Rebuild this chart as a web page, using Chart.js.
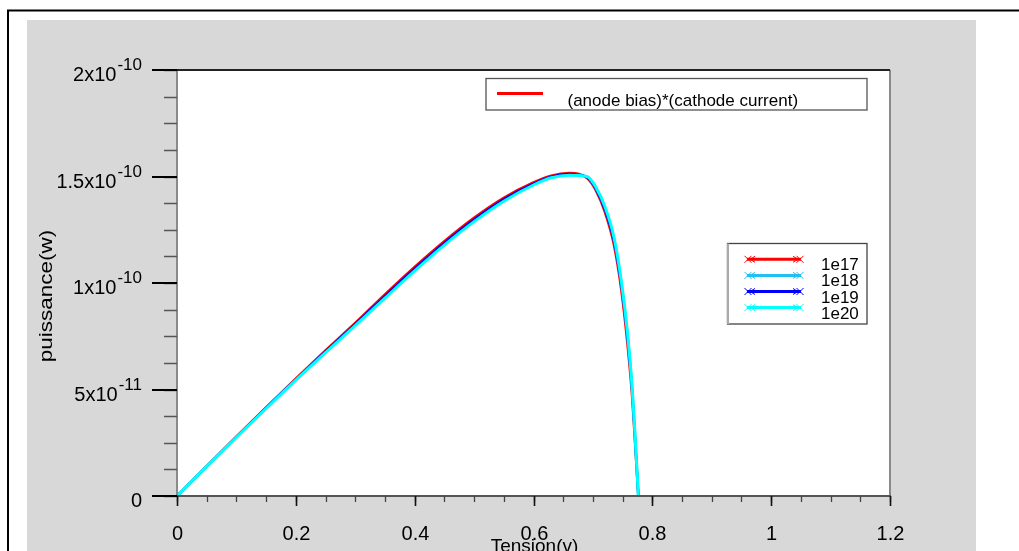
<!DOCTYPE html>
<html>
<head>
<meta charset="utf-8">
<script src="https://cdn.jsdelivr.net/npm/chart.js@4/dist/chart.umd.min.js"></script>
<style>
  html, body { margin: 0; padding: 0; background: #ffffff; }
  #wrap { width: 1019px; height: 551px; position: relative; }
</style>
</head>
<body>
<div id="wrap"><canvas id="c" width="1019" height="551"></canvas></div>
<script>
// Tension (V) sample points shared by every doping curve
const tension = [0, 0.05, 0.1, 0.15, 0.2, 0.25, 0.3, 0.35, 0.4, 0.45, 0.5, 0.55, 0.6, 0.63, 0.66, 0.69, 0.705, 0.72, 0.735, 0.748, 0.758, 0.766, 0.771, 0.7765];

// Power (W) for each doping level
const p1e17 = [0, 14.0e-12, 27.9e-12, 41.6e-12, 55.1e-12, 68.3e-12, 81.2e-12, 94.6e-12, 107.5e-12, 119.6e-12, 130.6e-12, 140.0e-12, 147.2e-12, 150.4e-12, 151.6e-12, 149.3e-12, 143.5e-12, 133.5e-12, 118.5e-12, 96.5e-12, 72.0e-12, 47.0e-12, 25.0e-12, 0];
const p1e18 = [0, 13.9e-12, 27.7e-12, 41.3e-12, 54.6e-12, 67.6e-12, 80.4e-12, 93.5e-12, 106.3e-12, 118.4e-12, 129.4e-12, 138.9e-12, 146.4e-12, 149.7e-12, 150.9e-12, 149.8e-12, 144.6e-12, 135.3e-12, 121.0e-12, 99.6e-12, 76.0e-12, 50.4e-12, 27.4e-12, 0];
const p1e19 = [0, 13.95e-12, 27.8e-12, 41.4e-12, 54.8e-12, 67.9e-12, 80.7e-12, 93.9e-12, 106.8e-12, 118.9e-12, 129.9e-12, 139.4e-12, 146.7e-12, 150.0e-12, 151.2e-12, 149.6e-12, 144.2e-12, 134.6e-12, 120.0e-12, 98.4e-12, 74.5e-12, 49.2e-12, 26.5e-12, 0];
const p1e20 = [0, 13.9e-12, 27.6e-12, 41.1e-12, 54.4e-12, 67.3e-12, 80.0e-12, 92.9e-12, 105.7e-12, 117.8e-12, 128.8e-12, 138.4e-12, 146.0e-12, 149.4e-12, 150.6e-12, 150.0e-12, 145.0e-12, 136.0e-12, 122.0e-12, 100.5e-12, 77.0e-12, 51.0e-12, 28.0e-12, 0];

const seriesNames = ['1e17', '1e18', '1e19', '1e20'];
const seriesColors = ['#ff0000', '#20c0f0', '#0000ff', '#00ffff'];

// Axis ticks
const xTickValues = [0, 0.2, 0.4, 0.6, 0.8, 1, 1.2];
const xTickLabels = ['0', '0.2', '0.4', '0.6', '0.8', '1', '1.2'];
const yTickValues = [0, 5e-11, 1e-10, 1.5e-10, 2e-10];
const yTickMantissa = ['0', '5x10', '1x10', '1.5x10', '2x10'];
const yTickExponent = ['', '-11', '-10', '-10', '-10'];

const xTitle = 'Tension(v)';
const yTitle = 'puissance(w)';
const productLegend = '(anode bias)*(cathode current)';

const FONT = '"Liberation Sans", Arial, sans-serif';

function toPoints(ys) {
  return tension.map((v, i) => ({ x: v, y: ys[i] }));
}

const allSeries = [p1e17, p1e18, p1e19, p1e20];
const widths = [2.6, 2.8, 2.2, 3.0];
const orders = [3, 2, 1, 0];

const datasets = allSeries.map((ys, i) => ({
  label: seriesNames[i],
  data: toPoints(ys),
  borderColor: seriesColors[i],
  backgroundColor: seriesColors[i],
  borderWidth: widths[i],
  pointRadius: 0,
  fill: false,
  cubicInterpolationMode: 'monotone',
  order: orders[i]
}));

// Page frame, grey panel and white plotting area
const backdrop = {
  id: 'backdrop',
  beforeDraw(chart) {
    const ctx = chart.ctx;
    const a = chart.chartArea;
    ctx.save();
    ctx.fillStyle = '#ffffff';
    ctx.fillRect(0, 0, chart.width, chart.height);
    ctx.fillStyle = '#d8d8d8';
    ctx.fillRect(27, 20, 949, 531);
    ctx.fillStyle = '#ffffff';
    ctx.fillRect(a.left, a.top, a.right - a.left, a.bottom - a.top);
    ctx.strokeStyle = '#000000';
    ctx.lineWidth = 2;
    ctx.beginPath();
    ctx.moveTo(8, 551);
    ctx.lineTo(8, 10.5);
    ctx.lineTo(1019, 10.5);
    ctx.stroke();
    ctx.restore();
  }
};

// Axes, ticks, labels and the two legend boxes
const decorations = {
  id: 'decorations',
  afterDatasetsDraw(chart) {
    const ctx = chart.ctx;
    const a = chart.chartArea;
    const xs = chart.scales.x;
    const ys = chart.scales.y;
    ctx.save();

    // plot frame
    ctx.lineWidth = 2;
    ctx.strokeStyle = '#8a8a8a';
    ctx.beginPath();
    ctx.moveTo(a.left, a.top); ctx.lineTo(a.left, a.bottom);
    ctx.moveTo(a.right, a.top); ctx.lineTo(a.right, a.bottom);
    ctx.stroke();
    ctx.strokeStyle = '#222222';
    ctx.beginPath();
    ctx.moveTo(a.left, a.top); ctx.lineTo(a.right, a.top);
    ctx.stroke();
    ctx.strokeStyle = '#555555';
    ctx.beginPath();
    ctx.moveTo(a.left, a.bottom); ctx.lineTo(a.right + 1, a.bottom);
    ctx.stroke();

    // x minor ticks every 0.05
    ctx.lineWidth = 1.3;
    ctx.strokeStyle = '#444444';
    for (let k = 0; k <= 24; k++) {
      const px = Math.round(xs.getPixelForValue(k * 0.05)) + 0.5;
      ctx.beginPath();
      ctx.moveTo(px, a.bottom); ctx.lineTo(px, a.bottom + 6);
      ctx.stroke();
    }
    // x major ticks + labels
    ctx.lineWidth = 1.6;
    ctx.strokeStyle = '#111111';
    ctx.fillStyle = '#000000';
    ctx.font = '20px ' + FONT;
    ctx.textAlign = 'center';
    ctx.textBaseline = 'alphabetic';
    xTickValues.forEach((v, i) => {
      const px = Math.round(xs.getPixelForValue(v)) + 0.5;
      ctx.beginPath();
      ctx.moveTo(px, a.bottom); ctx.lineTo(px, a.bottom + 10);
      ctx.stroke();
      ctx.fillText(xTickLabels[i], px, 539.5);
    });

    // y minor ticks every quarter step
    ctx.lineWidth = 1.5;
    ctx.strokeStyle = '#555555';
    for (let k = 0; k <= 16; k++) {
      const py = Math.round(ys.getPixelForValue(k * 1.25e-11)) + 0.5;
      ctx.beginPath();
      ctx.moveTo(a.left - 13, py); ctx.lineTo(a.left, py);
      ctx.stroke();
    }
    // y major ticks + labels with superscript exponent
    ctx.lineWidth = 2;
    ctx.strokeStyle = '#000000';
    yTickValues.forEach((v, i) => {
      const py = Math.round(ys.getPixelForValue(v));
      ctx.beginPath();
      ctx.moveTo(a.left - 25, py); ctx.lineTo(a.left, py);
      ctx.stroke();
      const right = 142;
      ctx.textAlign = 'left';
      ctx.font = '17px ' + FONT;
      const expW = yTickExponent[i] ? ctx.measureText(yTickExponent[i]).width : 0;
      ctx.font = '20px ' + FONT;
      const manW = ctx.measureText(yTickMantissa[i]).width;
      const start = right - expW - manW - (expW ? 1 : 0);
      ctx.fillText(yTickMantissa[i], start, py + 10.5);
      if (expW) {
        ctx.font = '17px ' + FONT;
        ctx.fillText(yTickExponent[i], start + manW + 1, py);
      }
    });

    // axis titles
    ctx.font = '19px ' + FONT;
    ctx.textAlign = 'center';
    ctx.fillText(xTitle, 534.5, 552);
    ctx.save();
    ctx.translate(52, 296);
    ctx.rotate(-Math.PI / 2);
    ctx.scale(1.25, 1);
    ctx.font = '18px ' + FONT;
    ctx.fillText(yTitle, 0, 0);
    ctx.restore();

    // product legend box
    ctx.fillStyle = '#ffffff';
    ctx.fillRect(486, 78.5, 381, 31.5);
    ctx.lineWidth = 1.3;
    ctx.strokeStyle = '#555555';
    ctx.strokeRect(486, 78.5, 381, 31.5);
    ctx.strokeStyle = seriesColors[0];
    ctx.lineWidth = 3;
    ctx.beginPath();
    ctx.moveTo(497, 93.5); ctx.lineTo(543, 93.5);
    ctx.stroke();
    ctx.fillStyle = '#000000';
    ctx.font = '17px ' + FONT;
    ctx.textAlign = 'left';
    ctx.fillText(productLegend, 567.5, 106);

    // doping legend box
    ctx.fillStyle = '#ffffff';
    ctx.fillRect(727.5, 243.5, 139.5, 80.5);
    ctx.lineWidth = 1.3;
    ctx.strokeStyle = '#444444';
    ctx.strokeRect(727.5, 243.5, 139.5, 80.5);
    ctx.strokeStyle = '#aaaaaa';
    ctx.lineWidth = 2;
    ctx.beginPath();
    ctx.moveTo(728, 243.5); ctx.lineTo(728, 324);
    ctx.stroke();
    ctx.font = '17px ' + FONT;
    seriesNames.forEach((name, i) => {
      const y = 259.3 + i * 16.1;
      const col = seriesColors[i];
      ctx.strokeStyle = col;
      ctx.lineWidth = 3;
      ctx.beginPath();
      ctx.moveTo(747, y); ctx.lineTo(801, y);
      ctx.stroke();
      ctx.lineWidth = 1;
      [748, 800].forEach((cx, j) => {
        ctx.beginPath();
        ctx.moveTo(cx - 3.5, y - 3.5); ctx.lineTo(cx + 3.5, y + 3.5);
        ctx.moveTo(cx - 3.5, y + 3.5); ctx.lineTo(cx + 3.5, y - 3.5);
        const dir = j === 0 ? 1 : -1;
        ctx.moveTo(cx + dir * 7, y - 3); ctx.lineTo(cx + dir * 2, y); ctx.lineTo(cx + dir * 7, y + 3);
        ctx.stroke();
      });
      ctx.fillStyle = '#000000';
      ctx.fillText(name, 821, y + 11);
    });

    ctx.restore();
  }
};

new Chart(document.getElementById('c'), {
  type: 'line',
  data: { datasets },
  options: {
    responsive: false,
    animation: false,
    events: [],
    layout: { padding: { left: 177, top: 70, right: 129, bottom: 55 } },
    scales: {
      x: { type: 'linear', min: 0, max: 1.2, display: false },
      y: { type: 'linear', min: 0, max: 2e-10, display: false }
    },
    plugins: {
      legend: { display: false },
      tooltip: { enabled: false }
    }
  },
  plugins: [backdrop, decorations]
});
</script>
</body>
</html>
